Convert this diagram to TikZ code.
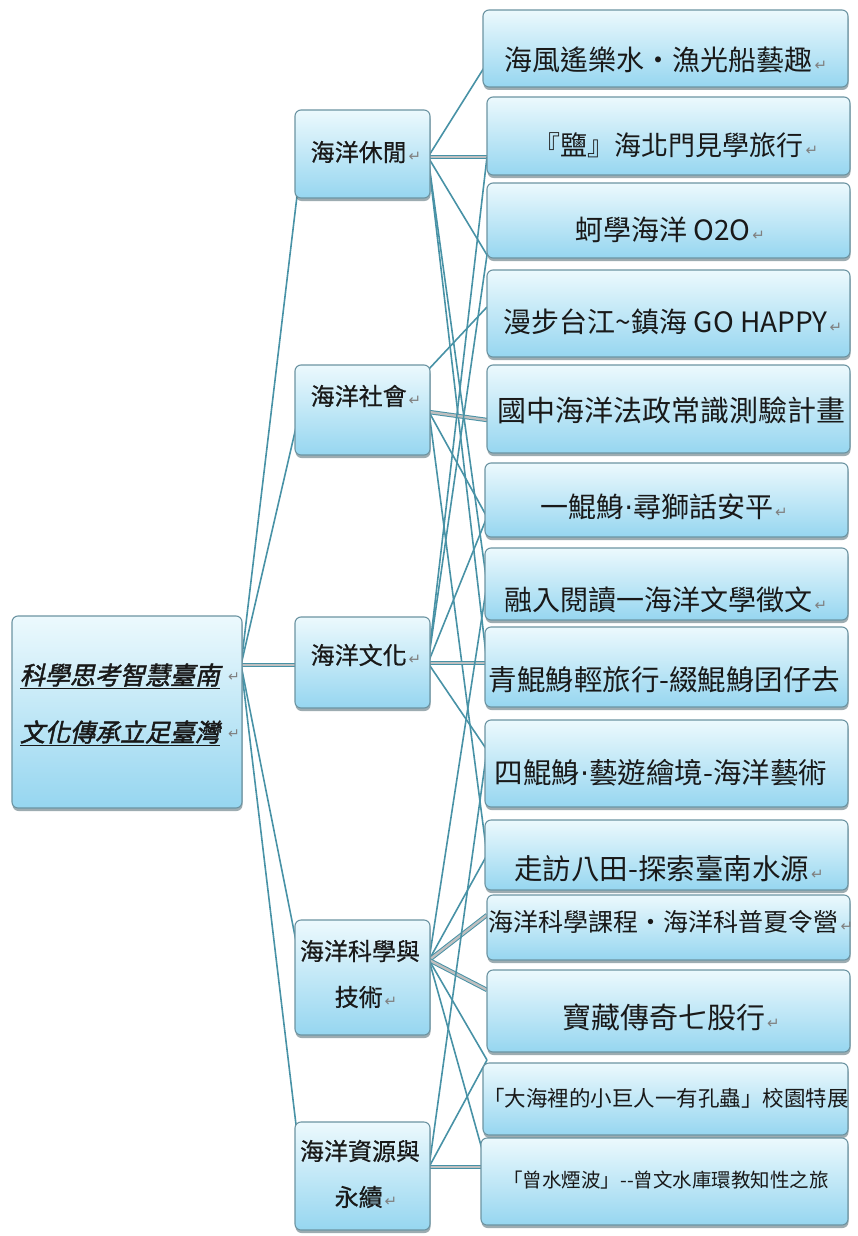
\documentclass[tikz,border=0pt]{standalone}
\usepackage{fontspec}
\setmainfont{Noto Sans CJK TC}
\newfontfamily\rootfont[FakeSlant=0.22,FakeBold=1.8]{Noto Sans CJK TC}
\newfontfamily\midfont[FakeBold=0.6]{Noto Sans CJK TC}
\newfontfamily\symfont{DejaVu Sans}
\usetikzlibrary{shadows}
\pgfdeclarelayer{bg}
\pgfsetlayers{bg,main}
\definecolor{boxtop}{RGB}{236,249,253}
\definecolor{boxbot}{RGB}{150,214,240}
\definecolor{boxedge}{RGB}{108,148,162}
\definecolor{linec}{RGB}{72,146,166}
\definecolor{txt}{RGB}{25,25,25}
\newcommand\ret{{\symfont\fontsize{15}{15}\selectfont\color{gray}\hspace{2pt}↵}}
\newcommand\md{{\symfont ·}}
\newcommand\fs[1]{\fontsize{#1}{#1}\selectfont}
\begin{document}
\begin{tikzpicture}[x=1pt,y=-1pt,
  box/.style={draw=boxedge, line width=1.1pt, rounded corners=6pt, top color=boxtop, bottom color=boxbot, inner sep=0pt,
    drop shadow={shadow xshift=0.5pt, shadow yshift=-3pt, fill=boxedge!70!black, opacity=0.55}},
  lbl/.style={inner sep=0pt, text=txt, anchor=center},
  conn/.style={draw=linec, line width=1.6pt},
  dconn/.style={draw=linec, line width=1pt, double=gray!50, double distance=2.4pt}]
\useasboundingbox (0,0) rectangle (858,1236);

% root
\node[box, minimum width=230pt, minimum height=192pt] (root) at (127,712) {};
\node[lbl, font=\rootfont\fs{25}] (rt1) at (120,676) {\underline{科學思考智慧臺南}};
\node[lbl, font=\rootfont\fs{25}] (rt2) at (120,733) {\underline{文化傳承立足臺灣}};
\node[lbl, font=\symfont\fs{14}, text=gray] (rr1) at (234,677) {↵};
\node[lbl, font=\symfont\fs{14}, text=gray] (rr2) at (234,734) {↵};

% middle level
\node[box, minimum width=135pt, minimum height=88pt] (m1) at (362.5,154) {};
\node[box, minimum width=135pt, minimum height=90pt] (m2) at (362.5,410) {};
\node[box, minimum width=135pt, minimum height=91pt] (m3) at (362.5,662.5) {};
\node[box, minimum width=135pt, minimum height=115pt] (m4) at (362.5,977.5) {};
\node[box, minimum width=135pt, minimum height=108pt] (m5) at (362.5,1176) {};
\node[lbl, font=\midfont\fs{24}] (mt1) at (366,152) {海洋休閒\ret};
\node[lbl, font=\midfont\fs{24}] (mt2) at (366,396) {海洋社會\ret};
\node[lbl, font=\midfont\fs{24}] (mt3) at (366,655) {海洋文化\ret};
\node[lbl, font=\midfont\fs{24}] (mt4a) at (360,951) {海洋科學與};
\node[lbl, font=\midfont\fs{24}] (mt4b) at (366,997) {技術\ret};
\node[lbl, font=\midfont\fs{24}] (mt5a) at (360,1151) {海洋資源與};
\node[lbl, font=\midfont\fs{24}] (mt5b) at (366,1197) {永續\ret};

% right level
\node[box, minimum width=365pt, minimum height=77pt] (c1) at (665.5,48.5) {};
\node[box, minimum width=363pt, minimum height=78pt] (c2) at (668.5,136) {};
\node[box, minimum width=363pt, minimum height=75pt] (c3) at (668.5,220.5) {};
\node[box, minimum width=363pt, minimum height=87pt] (c4) at (668.5,313.5) {};
\node[box, minimum width=363pt, minimum height=88pt] (c5) at (668.5,409) {};
\node[box, minimum width=363pt, minimum height=74pt] (c6) at (666.5,500) {};
\node[box, minimum width=363pt, minimum height=72pt] (c7) at (666.5,584) {};
\node[box, minimum width=363pt, minimum height=80pt] (c8) at (666.5,667) {};
\node[box, minimum width=363pt, minimum height=87pt] (c9) at (666.5,763.5) {};
\node[box, minimum width=363pt, minimum height=70pt] (c10) at (666.5,855) {};
\node[box, minimum width=363pt, minimum height=65pt] (c11) at (668.5,927.5) {};
\node[box, minimum width=363pt, minimum height=82pt] (c12) at (668.5,1011) {};
\node[box, minimum width=365pt, minimum height=72pt] (c13) at (665.5,1099) {};
\node[box, minimum width=367pt, minimum height=87pt] (c14) at (664.5,1181.5) {};

\node[lbl, font=\fs{28}] (ct1) at (666,60) {海風遙樂水・漁光船藝趣\ret};
\node[lbl, font=\fs{27}] (ct2) at (676,145) {『鹽』海北門見學旅行\ret};
\node[lbl, font=\fs{28}] (ct3) at (670,230) {蚵學海洋 O2O\ret};
\node[lbl, font=\fs{28}] (ct4) at (673,322) {漫步台江\textasciitilde 鎮海 GO HAPPY\ret};
\node[lbl, font=\fs{29}] (ct5) at (671,410) {國中海洋法政常識測驗計畫};
\node[lbl, font=\fs{28}] (ct6) at (664,507) {一鯤鯓\md 尋獅話安平\ret};
\node[lbl, font=\fs{28}] (ct7) at (666,600) {融入閱讀一海洋文學徵文\ret};
\node[lbl, font=\fs{28.5}] (ct8) at (664.5,680) {青鯤鯓輕旅行-綴鯤鯓囝仔去};
\node[lbl, font=\fs{28.5}] (ct9) at (661,773) {四鯤鯓\md 藝遊繪境-海洋藝術};
\node[lbl, font=\fs{28.5}] (ct10) at (669,869) {走訪八田-探索臺南水源\ret};
\node[lbl, font=\fs{25}] (ct11) at (671,922) {海洋科學課程・海洋科普夏令營\ret};
\node[lbl, font=\fs{29}] (ct12) at (671,1017) {寶藏傳奇七股行\ret};
\node[lbl, font=\fs{21.5}] (ct13) at (666,1098) {「大海裡的小巨人一有孔蟲」校園特展};
\node[lbl, font=\fs{19.5}] (ct14) at (666,1180) {「曾水煙波」-{}-曾文水庫環教知性之旅};

% connection points
\coordinate (R) at (241,665);
\coordinate (a1) at (297,196);
\coordinate (a2) at (297,423);
\coordinate (a3) at (297,665);
\coordinate (a4) at (297,946);
\coordinate (a5) at (297,1133);
\coordinate (p1) at (428,157);
\coordinate (p2a) at (428,370);
\coordinate (p2) at (429,412);
\coordinate (p3) at (428,663);
\coordinate (p4) at (429,960);
\coordinate (p5) at (429,1167);
\coordinate (e1) at (487,63);
\coordinate (e2) at (487,157);
\coordinate (e3) at (487,255);
\coordinate (e4) at (487,307);
\coordinate (e5) at (487,420);
\coordinate (e6) at (487,517);
\coordinate (e7) at (487,584);
\coordinate (e8) at (487,663);
\coordinate (e9) at (487,750);
\coordinate (e10) at (487,855);
\coordinate (e11) at (487,915);
\coordinate (e12) at (487,990);
\coordinate (e13) at (487,1060);
\coordinate (e14) at (487,1167);

\begin{pgfonlayer}{bg}
\draw[conn] (R) -- (a1);
\draw[conn] (R) -- (a2);
\draw[dconn] (R) -- (a3);
\draw[conn] (R) -- (a4);
\draw[conn] (R) -- (a5);
% from 海洋休閒
\draw[conn] (p1) -- (e1);
\draw[dconn] (p1) -- (e2);
\draw[conn] (p1) -- (e3);
\draw[conn] (p1) -- (e7);
\draw[conn] (p1) -- (e8);
% from 海洋社會
\draw[conn] (p2a) -- (e4);
\draw[dconn] (p2) -- (e5);
\draw[conn] (p2) -- (e6);
\draw[conn] (p2) -- (e10);
% from 海洋文化
\draw[conn] (p3) -- (e2);
\draw[conn] (p3) -- (e3);
\draw[conn] (p3) -- (e6);
\draw[dconn] (p3) -- (e8);
\draw[conn] (p3) -- (e9);
% from 海洋科學與技術
\draw[conn] (p4) -- (e7);
\draw[conn] (p4) -- (e10);
\draw[dconn] (p4) -- (e11);
\draw[dconn] (p4) -- (e12);
\draw[conn] (p4) -- (e13);
\draw[conn] (p4) -- (e14);
% from 海洋資源與永續
\draw[dconn] (p5) -- (e14);
\draw[conn] (p5) -- (e13);
\draw[conn] (p5) -- (e9);
\end{pgfonlayer}
\end{tikzpicture}
\end{document}
